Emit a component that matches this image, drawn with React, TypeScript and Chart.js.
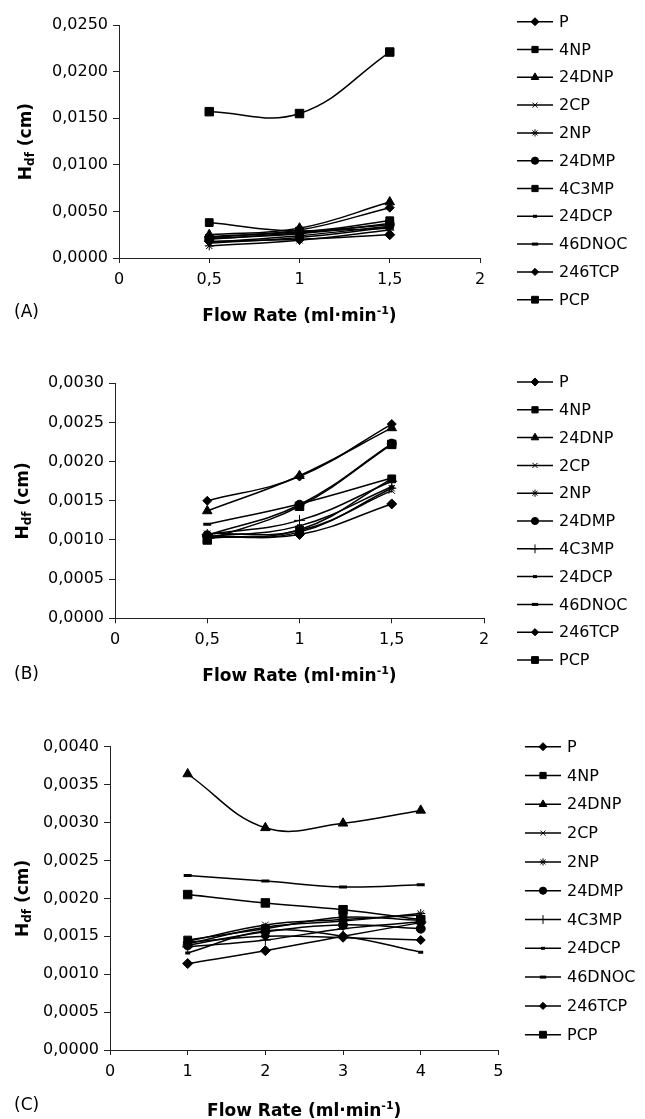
import React, { useEffect, useRef } from 'react';
import { Chart, registerables } from 'chart.js';

Chart.register(...registerables);

// ---------- DATA ----------
const SERIES = ['P', '4NP', '24DNP', '2CP', '2NP', '24DMP', '4C3MP', '24DCP', '46DNOC', '246TCP', 'PCP'];

const FLOW_AB = [0.5, 1, 1.5];
const FLOW_C = [1, 2, 3, 4];

// H_df (cm), one row per series (same order as SERIES)
const HDF_A = [
  [0.0018, 0.0020, 0.0025],
  [0.0021, 0.0026, 0.0037],
  [0.0025, 0.0032, 0.0060],
  [0.0016, 0.0022, 0.0033],
  [0.0013, 0.0019, 0.0030],
  [0.0020, 0.0027, 0.0036],
  [0.0038, 0.0029, 0.0040],
  [0.0017, 0.0024, 0.0034],
  [0.0022, 0.0028, 0.0032],
  [0.0023, 0.0030, 0.0054],
  [0.0157, 0.0155, 0.0221],
];

const HDF_B = [
  [0.00105, 0.00107, 0.00146],
  [0.00102, 0.00113, 0.00178],
  [0.00137, 0.00182, 0.00243],
  [0.00108, 0.00112, 0.00163],
  [0.00103, 0.00110, 0.00166],
  [0.00106, 0.00145, 0.00223],
  [0.00107, 0.00125, 0.00175],
  [0.00104, 0.00118, 0.00168],
  [0.00120, 0.00146, 0.00179],
  [0.00150, 0.00181, 0.00248],
  [0.00100, 0.00143, 0.00222],
];

const HDF_C = [
  [0.00114, 0.00131, 0.00150, 0.00168],
  [0.00145, 0.00160, 0.00175, 0.00171],
  [0.00364, 0.00293, 0.00299, 0.00316],
  [0.00143, 0.00165, 0.00172, 0.00178],
  [0.00140, 0.00162, 0.00170, 0.00180],
  [0.00138, 0.00156, 0.00165, 0.00160],
  [0.00136, 0.00145, 0.00160, 0.00169],
  [0.00128, 0.00157, 0.00150, 0.00129],
  [0.00230, 0.00223, 0.00215, 0.00218],
  [0.00142, 0.00150, 0.00148, 0.00145],
  [0.00205, 0.00194, 0.00185, 0.00172],
];

// ---------- STYLES ----------
const MARKERS_A = ['rectRot', 'rect', 'triangle', 'crossRot', 'star', 'circle', 'rect', 'line', 'line', 'rectRot', 'rect'];
const MARKERS_BC = ['rectRot', 'rect', 'triangle', 'crossRot', 'star', 'circle', 'cross', 'line', 'line', 'rectRot', 'rect'];
const MARKER_R = [5, 5.5, 5.5, 4.5, 4.5, 4.5, 5.5, 2.5, 4, 4.5, 6];

const FONT = '"DejaVu Sans", sans-serif';
const W = 645;
const XH = 32;

type PanelCfg = {
  label: string;
  top: number;
  height: number;
  ca: { l: number; r: number; t: number; b: number };
  xs: number[];
  values: number[][];
  markers: string[];
  xMax: number;
  xStep: number;
  yMax: number;
  yStep: number;
  yTitleX: number;
  titleY: number;
  labelY: number;
  legendX: number;
  legendY0: number;
  legendDy: number;
};

const PANELS: PanelCfg[] = [
  {
    label: '(A)', top: 0, height: 340,
    ca: { l: 119, r: 480, t: 25, b: 258 },
    xs: FLOW_AB, values: HDF_A, markers: MARKERS_A,
    xMax: 2, xStep: 0.5, yMax: 0.025, yStep: 0.005,
    yTitleX: 25, titleY: 315, labelY: 313,
    legendX: 517, legendY0: 21.7, legendDy: 27.8,
  },
  {
    label: '(B)', top: 340, height: 360,
    ca: { l: 115, r: 484, t: 43.3, b: 278.3 },
    xs: FLOW_AB, values: HDF_B, markers: MARKERS_BC,
    xMax: 2, xStep: 0.5, yMax: 0.003, yStep: 0.0005,
    yTitleX: 22, titleY: 335, labelY: 335,
    legendX: 517, legendY0: 42, legendDy: 27.8,
  },
  {
    label: '(C)', top: 700, height: 419,
    ca: { l: 110, r: 498.4, t: 46.7, b: 350 },
    xs: FLOW_C, values: HDF_C, markers: MARKERS_BC,
    xMax: 5, xStep: 1, yMax: 0.004, yStep: 0.0005,
    yTitleX: 22, titleY: 410, labelY: 406,
    legendX: 525, legendY0: 46.7, legendDy: 28.8,
  },
];

function drawMarker(ctx: CanvasRenderingContext2D, style: string, x: number, y: number, r: number, bw: number) {
  ctx.beginPath();
  let fill = false;
  switch (style) {
    case 'circle':
      ctx.arc(x, y, r, 0, Math.PI * 2);
      ctx.closePath();
      fill = true;
      break;
    case 'rect': {
      const s = r * Math.SQRT1_2;
      ctx.rect(x - s, y - s, 2 * s, 2 * s);
      fill = true;
      break;
    }
    case 'rectRot':
      ctx.moveTo(x - r, y);
      ctx.lineTo(x, y - r);
      ctx.lineTo(x + r, y);
      ctx.lineTo(x, y + r);
      ctx.closePath();
      fill = true;
      break;
    case 'triangle': {
      const a = (2 * Math.PI) / 3;
      ctx.moveTo(x, y - r);
      ctx.lineTo(x + Math.sin(a) * r, y - Math.cos(a) * r);
      ctx.lineTo(x + Math.sin(2 * a) * r, y - Math.cos(2 * a) * r);
      ctx.closePath();
      fill = true;
      break;
    }
    case 'cross':
      ctx.moveTo(x, y - r);
      ctx.lineTo(x, y + r);
      ctx.moveTo(x - r, y);
      ctx.lineTo(x + r, y);
      break;
    case 'crossRot': {
      const d = r * Math.SQRT1_2;
      ctx.moveTo(x - d, y - d);
      ctx.lineTo(x + d, y + d);
      ctx.moveTo(x + d, y - d);
      ctx.lineTo(x - d, y + d);
      break;
    }
    case 'star': {
      const d = r * Math.SQRT1_2;
      ctx.moveTo(x, y - r);
      ctx.lineTo(x, y + r);
      ctx.moveTo(x - r, y);
      ctx.lineTo(x + r, y);
      ctx.moveTo(x - d, y - d);
      ctx.lineTo(x + d, y + d);
      ctx.moveTo(x + d, y - d);
      ctx.lineTo(x - d, y + d);
      break;
    }
    case 'line':
      ctx.moveTo(x - r, y);
      ctx.lineTo(x + r, y);
      break;
  }
  if (fill) ctx.fill();
  ctx.lineWidth = bw;
  ctx.stroke();
}

function makeDecor(cfg: PanelCfg) {
  return {
    id: 'decor' + cfg.label,
    afterDraw(chart: any) {
      const ctx: CanvasRenderingContext2D = chart.ctx;
      const a = chart.chartArea;
      ctx.save();
      ctx.fillStyle = '#000';
      ctx.strokeStyle = '#000';

      // Y axis title: H_df (cm)
      ctx.save();
      ctx.translate(cfg.yTitleX, (a.top + a.bottom) / 2);
      ctx.rotate(-Math.PI / 2);
      ctx.textBaseline = 'alphabetic';
      ctx.textAlign = 'left';
      const fMain = 'bold 17px ' + FONT;
      const fSub = 'bold 12px ' + FONT;
      ctx.font = fMain;
      const wH = ctx.measureText('H').width;
      const wRest = ctx.measureText(' (cm)').width;
      ctx.font = fSub;
      const wSub = ctx.measureText('df').width;
      let x0 = -(wH + wSub + wRest) / 2;
      ctx.font = fMain;
      ctx.fillText('H', x0, 6);
      x0 += wH;
      ctx.font = fSub;
      ctx.fillText('df', x0, 9);
      x0 += wSub;
      ctx.font = fMain;
      ctx.fillText(' (cm)', x0, 6);
      ctx.restore();

      // X axis title: Flow Rate (ml·min-1)
      const cx = (a.left + a.right) / 2;
      const p1 = 'Flow Rate (ml\u00b7min';
      const sup = '-1';
      const p2 = ')';
      ctx.textBaseline = 'alphabetic';
      ctx.textAlign = 'left';
      ctx.font = fMain;
      const w1 = ctx.measureText(p1).width;
      const w2 = ctx.measureText(p2).width;
      ctx.font = 'bold 11px ' + FONT;
      const ws = ctx.measureText(sup).width;
      let xx = cx - (w1 + ws + w2) / 2;
      const base = cfg.titleY + 6;
      ctx.font = fMain;
      ctx.fillText(p1, xx, base);
      xx += w1;
      ctx.font = 'bold 11px ' + FONT;
      ctx.fillText(sup, xx, base - 7);
      xx += ws;
      ctx.font = fMain;
      ctx.fillText(p2, xx, base);

      // Panel label
      ctx.font = '17px ' + FONT;
      ctx.textBaseline = 'middle';
      ctx.fillText(cfg.label, 14, cfg.labelY);

      // Legend
      ctx.font = '16px ' + FONT;
      ctx.textBaseline = 'middle';
      SERIES.forEach((name, i) => {
        const y = cfg.legendY0 + i * cfg.legendDy;
        ctx.beginPath();
        ctx.lineWidth = 1.5;
        ctx.moveTo(cfg.legendX, y);
        ctx.lineTo(cfg.legendX + 36, y);
        ctx.stroke();
        const st = cfg.markers[i];
        drawMarker(ctx, st, cfg.legendX + 18, y, MARKER_R[i] * 0.8, st === 'line' ? 3 : 1);
        ctx.fillText(name, cfg.legendX + 42, y + 1);
      });
      ctx.restore();
    },
  };
}

function Panel({ cfg }: { cfg: PanelCfg }) {
  const ref = useRef<HTMLCanvasElement | null>(null);
  useEffect(() => {
    const canvas = ref.current;
    if (!canvas) return;
    const ca = cfg.ca;
    const H = cfg.height;
    const chart = new Chart(canvas, {
      type: 'line',
      data: {
        datasets: SERIES.map((name, i) => ({
          label: name,
          data: cfg.xs.map((x, j) => ({ x, y: cfg.values[i][j] })),
          borderColor: '#000',
          backgroundColor: '#000',
          borderWidth: 1.5,
          pointStyle: cfg.markers[i] as any,
          pointRadius: MARKER_R[i],
          pointBackgroundColor: '#000',
          pointBorderColor: '#000',
          pointBorderWidth: cfg.markers[i] === 'line' ? 3 : 1,
          tension: 0.4,
          fill: false,
        })),
      },
      options: {
        animation: false,
        responsive: false,
        maintainAspectRatio: false,
        layout: {
          padding: { left: 0, top: ca.t, right: W - ca.r, bottom: H - ca.b - XH },
        },
        plugins: {
          legend: { display: false },
          tooltip: { enabled: false },
        },
        scales: {
          x: {
            type: 'linear',
            min: 0,
            max: cfg.xMax,
            ticks: {
              stepSize: cfg.xStep,
              color: '#000',
              font: { family: FONT, size: 16 },
              padding: 7,
              maxRotation: 0,
              autoSkip: false,
              callback: (v: any) => String(v).replace('.', ','),
            },
            grid: { drawOnChartArea: false, drawTicks: true, tickLength: 5, tickColor: '#222' },
            border: { display: true, color: '#222', width: 1 },
            afterFit: (s: any) => {
              s.height = XH;
            },
          },
          y: {
            type: 'linear',
            min: 0,
            max: cfg.yMax,
            ticks: {
              stepSize: cfg.yStep,
              color: '#000',
              font: { family: FONT, size: 16 },
              padding: 5,
              autoSkip: false,
              callback: (v: any) => Number(v).toFixed(4).replace('.', ','),
            },
            grid: { drawOnChartArea: false, drawTicks: true, tickLength: 6, tickColor: '#222' },
            border: { display: true, color: '#222', width: 1 },
            afterFit: (s: any) => {
              s.width = ca.l;
            },
          },
        },
      },
      plugins: [makeDecor(cfg)],
    } as any);
    return () => chart.destroy();
  }, [cfg]);
  return (
    <canvas
      ref={ref}
      width={W}
      height={cfg.height}
      style={{ position: 'absolute', left: 0, top: cfg.top, width: W, height: cfg.height, display: 'block' }}
    />
  );
}

export default function App() {
  return (
    <div style={{ position: 'absolute', left: 0, top: 0, width: W, height: 1119, background: '#fff' }}>
      {PANELS.map((p) => (
        <Panel key={p.label} cfg={p} />
      ))}
    </div>
  );
}
